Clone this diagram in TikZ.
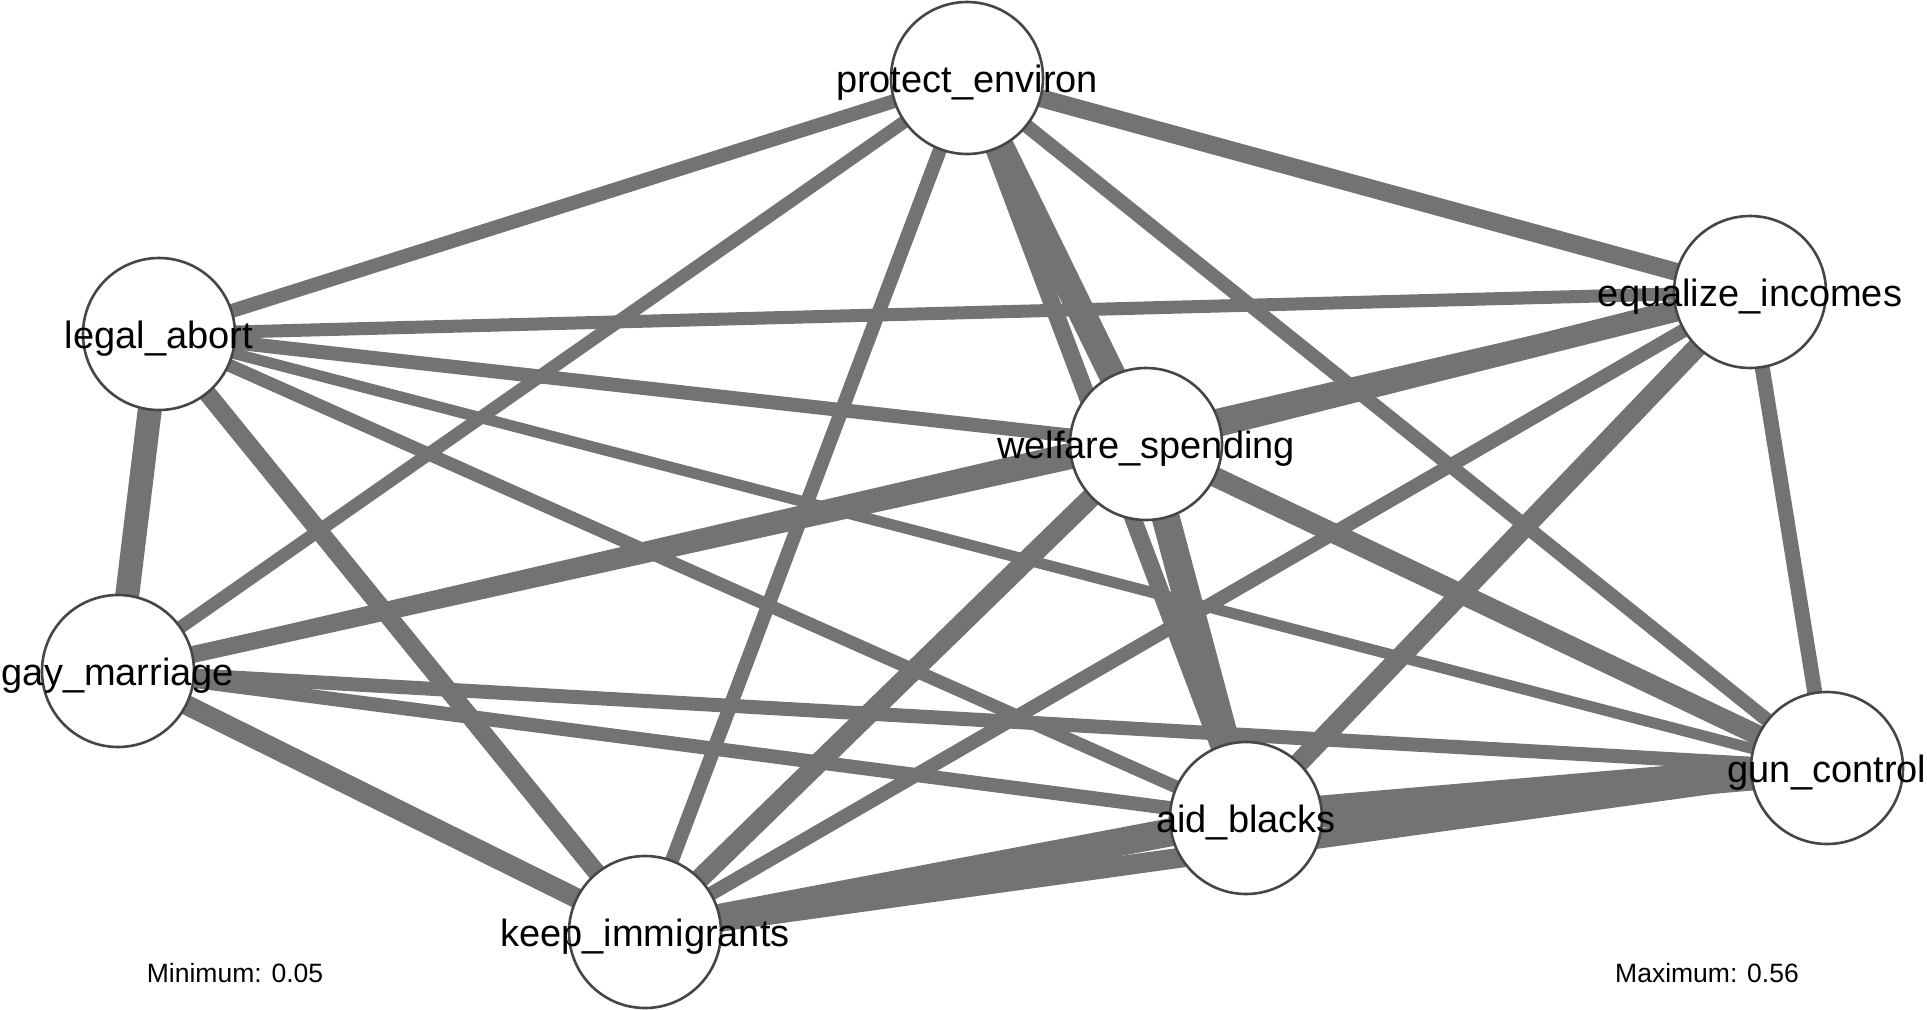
\documentclass[tikz,border=0pt]{standalone}
\usepackage{fontspec}
\setmainfont{Liberation Sans}
\usetikzlibrary{backgrounds}
\definecolor{edgegray}{RGB}{115,115,115}
\definecolor{rimgray}{RGB}{70,70,70}
\begin{document}
\begin{tikzpicture}[x=1pt,y=-1pt,
  varnode/.style={circle,draw=rimgray,line width=2.6pt,fill=white,minimum size=152pt,inner sep=0pt},
  varlabel/.style={anchor=base,yshift=-14pt,inner sep=0pt,font=\fontsize{38pt}{40pt}\selectfont},
  legendtext/.style={anchor=base,inner sep=0pt,font=\fontsize{26.5pt}{28pt}\selectfont},
  edge/.style={draw=edgegray,line width=#1,line cap=butt}]
\useasboundingbox (0,0) rectangle (1927,1009);

% variables
\node[varnode] (pe) at (967,78) {};
\node[varnode] (la) at (159,334) {};
\node[varnode] (ei) at (1750,292) {};
\node[varnode] (ws) at (1146,444) {};
\node[varnode] (gm) at (118,671) {};
\node[varnode] (gc) at (1827,768) {};
\node[varnode] (ab) at (1246,818) {};
\node[varnode] (ki) at (645,932) {};

\node[varlabel] (pe-t) at (pe) {protect\_environ};
\node[varlabel] (la-t) at (la) {legal\_abort};
\node[varlabel] (ei-t) at (ei) {equalize\_incomes};
\node[varlabel] (ws-t) at (ws) {welfare\_spending};
\node[varlabel] (gm-t) at (gm) {gay\_marriage};
\node[varlabel] (gc-t) at (gc) {gun\_control};
\node[varlabel] (ab-t) at (ab) {aid\_blacks};
\node[varlabel] (ki-t) at (ki) {keep\_immigrants};

\node[legendtext] (min) at (235,982) {Minimum: 0.05};
\node[legendtext] (max) at (1707,982) {Maximum: 0.56};

% weighted edges, drawn beneath the nodes
\begin{scope}[on background layer]
\draw[edge=11pt] (la.center) -- (gc.center);
\draw[edge=13pt] (pe.center) -- (gm.center);
\draw[edge=13pt] (la.center) -- (ab.center);
\draw[edge=14pt] (pe.center) -- (la.center);
\draw[edge=14pt] (pe.center) -- (gc.center);
\draw[edge=14pt] (pe.center) -- (ki.center);
\draw[edge=14pt] (la.center) -- (ws.center);
\draw[edge=14pt] (ei.center) -- (gm.center);
\draw[edge=14pt] (ei.center) -- (ki.center);
\draw[edge=14pt] (gm.center) -- (gc.center);
\draw[edge=14pt] (gm.center) -- (ab.center);
\draw[edge=13pt] (la.center) -- (ei.center);
\draw[edge=15pt] (ei.center) -- (gc.center);
\draw[edge=17pt] (pe.center) -- (ab.center);
\draw[edge=17pt] (ws.center) -- (gm.center);
\draw[edge=18pt] (pe.center) -- (ei.center);
\draw[edge=18pt] (la.center) -- (ki.center);
\draw[edge=20pt] (ei.center) -- (ab.center);
\draw[edge=20pt] (ws.center) -- (gc.center);
\draw[edge=20pt] (ws.center) -- (ki.center);
\draw[edge=20pt] (gm.center) -- (ki.center);
\draw[edge=20pt] (gc.center) -- (ki.center);
\draw[edge=22pt] (ei.center) -- (ws.center);
\draw[edge=24pt] (la.center) -- (gm.center);
\draw[edge=27pt] (pe.center) -- (ws.center);
\draw[edge=28pt] (ws.center) -- (ab.center);
\draw[edge=28pt] (ab.center) -- (ki.center);
\draw[edge=32pt] (gc.center) -- (ab.center);
\end{scope}
\end{tikzpicture}
\end{document}
